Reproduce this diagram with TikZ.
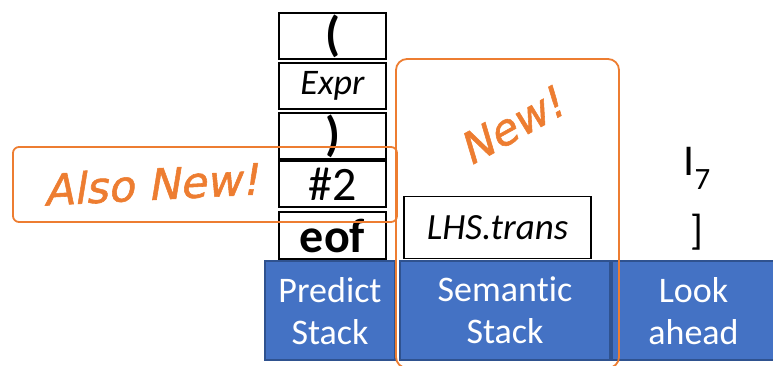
\documentclass[tikz,border=0pt]{standalone}
\usepackage{fontspec}
\setmainfont{Carlito}[Ligatures=NoCommon]
\newfontfamily\handfont{DejaVu Sans}[FakeSlant=0.22, FakeBold=1.3]
\definecolor{barblue}{HTML}{4472C4}
\definecolor{barline}{HTML}{2F528F}
\definecolor{accent}{HTML}{ED7D31}
\newcommand{\fs}[1]{\fontsize{#1}{#1}\selectfont}
\tikzset{
  cell/.style={draw=black, line width=1.8pt, fill=white, minimum width=107pt,
               minimum height=46.5pt, inner sep=0pt},
  bar/.style={draw=barline, line width=1.5pt, fill=barblue, text=white,
              inner sep=0pt, align=center, font=\fs{36}, text depth=0pt},
  callout/.style={draw=accent, line width=1.8pt},
  hand/.style={text=accent, font=\handfont\fs{43}, inner sep=0pt}
}
\begin{document}
\begin{tikzpicture}[x=1pt, y=-1pt]
  \useasboundingbox (0,0) rectangle (773,366);

  % predict stack contents
  \node[cell, font=\bfseries\fs{48}] (c1) at (332.5,36) {(};
  \node[cell, font=\itshape\fs{36}] (c2) at (332.5,86) {Expr};
  \node[cell, font=\bfseries\fs{48}] (c3) at (332.5,136) {)};
  \node[cell, font=\fs{48}] (c4) at (332.5,184) {\#2};
  \node[cell, font=\bfseries\fs{48}] (c5) at (332.5,235.5) {eof};

  % semantic stack contents
  \node[draw=black, line width=1.8pt, fill=white, minimum width=187pt,
        minimum height=62pt, inner sep=0pt, font=\itshape\fs{37}]
        (lhs) at (497.5,227.5) {LHS.trans};

  % lookahead tokens
  \node[font=\fs{44}, inner sep=0pt] (tok1) at (697,168)
        {I\raisebox{-0.32em}{\fs{31}7}};
  \node[font=\fs{42}, inner sep=0pt] (tok2) at (697,232) {]};

  % labelled bars
  \node[bar, minimum width=130pt, minimum height=99pt] (pred) at (330,310.5)
        {Predict\\[6pt]Stack};
  \node[bar, minimum width=210pt, minimum height=99pt] (sem) at (505,310.5)
        {Semantic\\[6pt]Stack};
  \node[bar, minimum width=163pt, minimum height=99pt] (look) at (693.5,310.5)
        {Look\\[6pt]ahead};

  % highlight outlines
  \draw[callout, rounded corners=11pt] (396,59) rectangle (619,368);
  \draw[callout, rounded corners=6pt] (13,147) rectangle (397,222);

  % handwritten notes
  \node[hand, rotate=3] (also) at (151,184) {Also New!};
  \node[hand, rotate=29] (new) at (511,126) {New!};
\end{tikzpicture}
\end{document}
